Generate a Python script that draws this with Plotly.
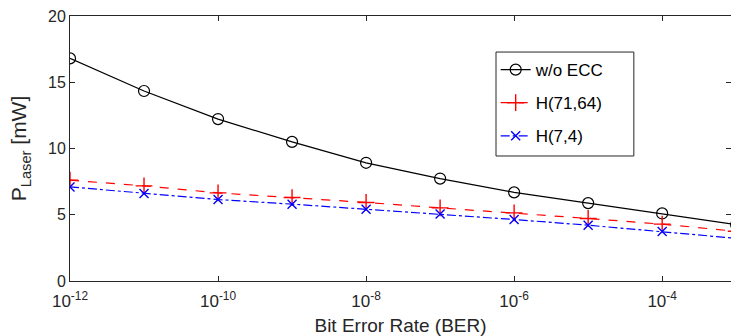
import plotly.graph_objects as go

ber = [1e-12, 1e-11, 1e-10, 1e-9, 1e-8, 1e-7, 1e-6, 1e-5, 1e-4, 1e-3]
p_no_ecc = [16.8, 14.34, 12.22, 10.5, 8.92, 7.73, 6.69, 5.88, 5.1, 4.25]
p_h7164 = [7.61, 7.18, 6.65, 6.3, 5.93, 5.52, 5.14, 4.72, 4.29, 3.75]
p_h74 = [7.1, 6.6, 6.15, 5.8, 5.42, 5.06, 4.64, 4.21, 3.73, 3.22]

x_tickvals = [1e-12, 1e-10, 1e-8, 1e-6, 1e-4]
x_ticktext = ["10<sup>-12</sup>", "10<sup>-10</sup>", "10<sup>-8</sup>", "10<sup>-6</sup>", "10<sup>-4</sup>"]
y_tickvals = [0, 5, 10, 15, 20]

axc = "#262626"
fig = go.Figure()
fig.add_trace(go.Scatter(x=ber, y=p_no_ecc, name="w/o ECC", mode="lines+markers",
                         line=dict(color="black", width=1.2),
                         marker=dict(symbol="circle-open", size=11, color="black", line=dict(width=1.2)),
                         legendgroup="a"))
fig.add_trace(go.Scatter(x=ber, y=p_h7164, name="H(71,64)", mode="lines+markers",
                         line=dict(color="red", width=1.2, dash="dash"),
                         marker=dict(symbol="cross-thin-open", size=12, color="red", line=dict(width=1.4, color="red")),
                         legendgroup="b"))
fig.add_trace(go.Scatter(x=ber, y=p_h74, name="H(7,4)", mode="lines+markers",
                         line=dict(color="blue", width=1.2, dash="dashdot"),
                         marker=dict(symbol="x-thin-open", size=9, color="blue", line=dict(width=1.4, color="blue")),
                         legendgroup="c"))

fig.update_layout(
    width=731, height=336,
    margin=dict(l=70, r=0, t=16, b=55, autoexpand=False),
    paper_bgcolor="white", plot_bgcolor="white",
    font=dict(family="Liberation Sans, Arial, sans-serif", size=16, color=axc),
    showlegend=True,
    legend=dict(x=0.644, y=0.864, xanchor="left", yanchor="top",
                bgcolor="rgba(0,0,0,0)", borderwidth=0,
                font=dict(size=17, color="black"), tracegroupgap=8,
                itemwidth=30),
    shapes=[dict(type="rect", xref="paper", yref="paper", x0=0.6445, x1=0.853,
                 y0=0.4717, y1=0.864, fillcolor="white", line=dict(color=axc, width=1),
                 layer="above")],
    xaxis=dict(type="log", range=[-12, -3.07], tickvals=x_tickvals, ticktext=x_ticktext,
               ticks="inside", ticklen=5, tickcolor=axc, showline=True, linecolor=axc,
               linewidth=1, mirror="ticks", showgrid=False, zeroline=False, automargin=False,
               ticklabelstandoff=5,
               title=dict(text="Bit Error Rate (BER)", font=dict(size=19)),
               tickfont=dict(size=17)),
    yaxis=dict(range=[0, 20], tickvals=y_tickvals, ticks="inside", ticklen=5, tickcolor=axc,
               showline=True, linecolor=axc, linewidth=1, showgrid=False, zeroline=False,
               automargin=False,
               title=dict(text="P<sub>Laser</sub> [mW]", font=dict(size=21)),
               tickfont=dict(size=16)),
    yaxis2=dict(range=[0, 20], tickvals=y_tickvals, ticks="inside", ticklen=5, tickcolor=axc,
                overlaying="y", side="right", showticklabels=False, showline=False,
                showgrid=False, zeroline=False, automargin=False),
)
fig.add_trace(go.Scatter(x=[1e-12], y=[0], yaxis="y2", mode="markers",
                         marker=dict(opacity=0), showlegend=False, hoverinfo="skip"))
fig.write_html("out.html", config={"displayModeBar": False},
               post_script="document.body.style.margin='0';document.body.style.overflow='hidden';")
